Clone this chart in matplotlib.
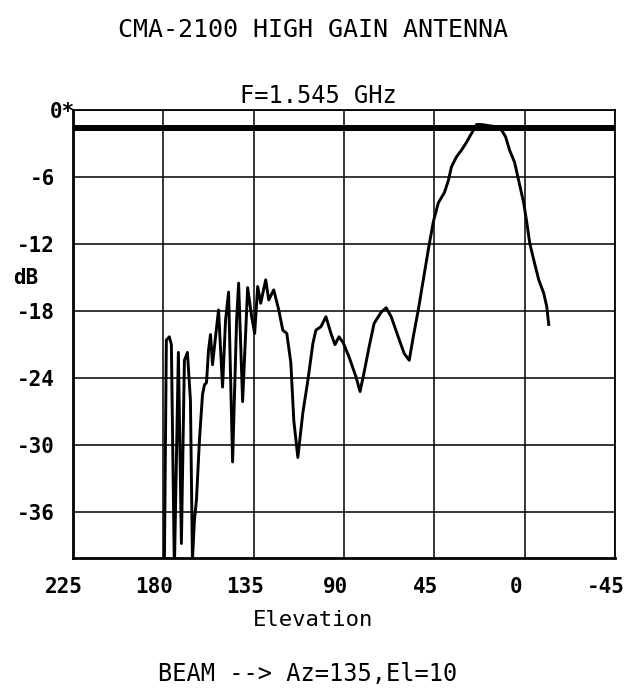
import matplotlib
matplotlib.use("Agg")
import matplotlib.pyplot as plt
import matplotlib.transforms as mtransforms
import numpy as np

# ---- data ----
elevation = [179.5, 178.5, 177, 176, 174.5, 172.5, 171, 169.5, 168, 166.5,
             165.5, 164.5, 163.5, 162, 160.5, 159.5, 158.5, 157.5, 156.5, 155.5,
             154, 152.5, 150.5, 149, 147.5, 145.5, 143.5, 142.5, 140.5, 138,
             136, 134.5, 133, 131.5, 129, 127.5, 125, 122.5, 120.5, 118.5,
             116.5, 115, 113, 110.5, 108, 105.5, 104, 101.5, 99, 96.5,
             94.5, 92.5, 90.5, 87.5, 84, 82, 80, 77.5, 75, 71.5,
             69, 66.5, 63, 60, 57.5, 55.5, 53, 50.5, 48, 45.5,
             43, 40, 38, 36.5, 34, 31.5, 29, 26.5, 24, 21.5,
             18, 14, 11.5, 9.5, 7.5, 5, 3, 0.5, -1, -2.5,
             -4.5, -7, -9.5, -11, -12]
gain_db = [-41.2, -20.6, -20.3, -21.0, -41.2, -21.7, -38.8, -22.4, -21.7, -26.0,
           -40.3, -36.7, -34.9, -29.5, -25.5, -24.6, -24.4, -21.5, -20.1, -22.8,
           -20.3, -17.9, -24.8, -18.8, -16.3, -31.5, -18.8, -15.5, -26.1, -15.9,
           -18.5, -20.0, -15.8, -17.3, -15.2, -17.0, -16.1, -17.9, -19.7, -20.0,
           -22.6, -27.8, -31.1, -27.1, -24.2, -20.9, -19.7, -19.4, -18.5, -20.0,
           -21.0, -20.3, -20.8, -22.1, -23.9, -25.2, -23.5, -21.2, -19.1, -18.1,
           -17.7, -18.5, -20.3, -21.8, -22.4, -20.3, -17.9, -15.2, -12.5, -10.0,
           -8.3, -7.4, -6.3, -5.1, -4.2, -3.6, -2.9, -2.1, -1.3, -1.3,
           -1.4, -1.5, -1.8, -2.4, -3.6, -4.7, -6.3, -8.3, -10.0, -11.9,
           -13.4, -15.2, -16.4, -17.6, -19.2]
ref_level_db = -1.6

x_ticks = [225, 180, 135, 90, 45, 0, -45]
x_tick_labels = ["225", "180", "135", "90", "45", "0", "-45"]
y_ticks = [0, -6, -12, -18, -24, -30, -36]
y_tick_labels = ["0*", "-6", "-12", "-18", "-24", "-30", "-36"]

title = "CMA-2100 HIGH GAIN ANTENNA"
subtitle = "F=1.545 GHz"
x_label = "Elevation"
y_label = "dB"
footer = "BEAM --> Az=135,El=10"

# ---- figure ----
plt.rcParams['font.family'] = ['DejaVu Sans Mono', 'DejaVu Sans']
fig = plt.figure(figsize=(6.25, 6.98), dpi=100)
ax = fig.add_axes([73/625, 1-558/698, (615-73)/625, (558-110)/698])

ax.plot(elevation, gain_db, color='black', lw=2.1, solid_joinstyle='round', clip_on=True)
ax.axhline(ref_level_db, color='black', lw=4.3)

ax.set_xlim(225, -45)
ax.set_ylim(-40.1, 0)
ax.set_xticks(x_ticks)
ax.set_xticklabels(x_tick_labels, fontsize=15, fontweight='bold')
ax.set_yticks(y_ticks)
ax.set_yticklabels(y_tick_labels, fontsize=15, fontweight='bold')
ax.tick_params(axis='both', length=0)
ax.tick_params(axis='x', pad=14)
ax.tick_params(axis='y', pad=13)
ax.grid(True, color='black', lw=1.1)
ax.set_axisbelow(True)
for side in ['left', 'bottom']:
    ax.spines[side].set_linewidth(2.0)
for side in ['right', 'top']:
    ax.spines[side].set_linewidth(1.3)

# plotter labels sit slightly left of their grid lines
xshift = mtransforms.ScaledTranslation(-9/100, 0, fig.dpi_scale_trans)
for lbl in ax.get_xticklabels():
    lbl.set_transform(lbl.get_transform() + xshift)
# the "0*" label touches the axis in the reference
yshift = mtransforms.ScaledTranslation(20/100, 0, fig.dpi_scale_trans)
lbl0 = ax.get_yticklabels()[0]
lbl0.set_transform(lbl0.get_transform() + yshift)

fig.text(313/625, 1-30/698, title, ha='center', va='center', fontsize=18)
fig.text(318/625, 1-96/698, subtitle, ha='center', va='center', fontsize=17)
fig.text(313/625, 1-620/698, x_label, ha='center', va='center', fontsize=16)
fig.text(13/625, 1-278/698, y_label, ha='left', va='center', fontsize=15, fontweight='bold')
fig.text(308/625, 1-674/698, footer, ha='center', va='center', fontsize=17)

fig.savefig("out.png", dpi=100)
